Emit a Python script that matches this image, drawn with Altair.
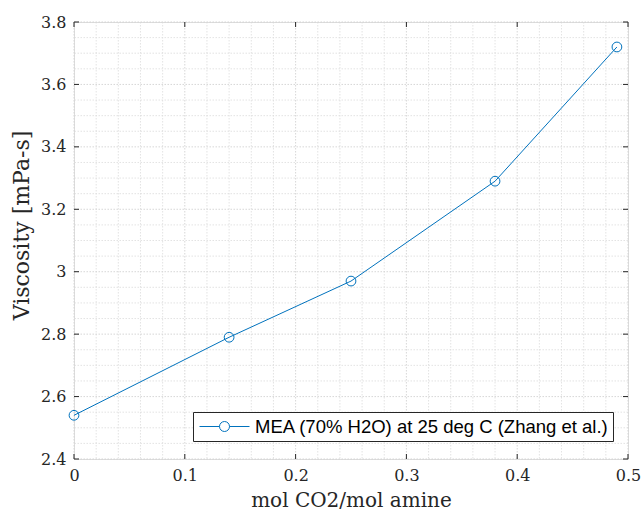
import altair as alt
import pandas as pd

# data
x_vals = [0.0, 0.14, 0.25, 0.38, 0.49]
y_vals = [2.54, 2.79, 2.97, 3.29, 3.72]
series_name = "MEA (70% H2O) at 25 deg C (Zhang et al.)"

x_ticks = [0.0, 0.1, 0.2, 0.3, 0.4, 0.5]
y_ticks = [2.4, 2.6, 2.8, 3.0, 3.2, 3.4, 3.6, 3.8]
x_minor = [0.02, 0.04, 0.06, 0.08, 0.12, 0.14, 0.16, 0.18, 0.22, 0.24, 0.26, 0.28,
           0.32, 0.34, 0.36, 0.38, 0.42, 0.44, 0.46, 0.48]
y_minor = [2.45, 2.5, 2.55, 2.65, 2.7, 2.75, 2.85, 2.9, 2.95, 3.05, 3.1, 3.15,
           3.25, 3.3, 3.35, 3.45, 3.5, 3.55, 3.65, 3.7, 3.75]

W, H = 554, 437
BLUE = "#0072BD"
AX = "#262626"
SERIF = "DejaVu Serif"

df = pd.DataFrame({"x": x_vals, "y": y_vals, "s": [series_name] * len(x_vals)})
xs = alt.Scale(domain=[0, 0.5], nice=False, zero=False)
ys = alt.Scale(domain=[2.4, 3.8], nice=False, zero=False)

xaxis = alt.Axis(values=x_ticks, title="mol CO2/mol amine", grid=False, ticks=False,
                 domain=False, labelFont=SERIF, labelFontSize=16, labelColor=AX,
                 labelPadding=8, labelFlush=False, titleFont=SERIF, titleFontSize=20,
                 titleFontWeight="normal", titleColor=AX, titlePadding=7,
                 labelExpr="datum.value == 0 ? '0' : format(datum.value, '.1f')")
yaxis = alt.Axis(values=y_ticks, title="Viscosity [mPa-s]", grid=False, ticks=False,
                 domain=False, labelFont=SERIF, labelFontSize=16, labelColor=AX,
                 labelPadding=8, labelFlush=False, titleFont=SERIF, titleFontSize=22,
                 titleFontWeight="normal", titleColor=AX, titlePadding=7, titleY=203,
                 labelExpr="datum.value == 3 ? '3' : format(datum.value, '.1f')")

dx_minor = pd.DataFrame({"x": x_minor})
dy_minor = pd.DataFrame({"y": y_minor})
dx_major = pd.DataFrame({"x": x_ticks})
dy_major = pd.DataFrame({"y": y_ticks})

X = alt.X("x:Q", scale=xs, axis=xaxis)
Y = alt.Y("y:Q", scale=ys, axis=yaxis)

grid_c = "#dcdcdc"
vmin = alt.Chart(dx_minor).mark_rule(color=grid_c, strokeDash=[1.5, 1.5], strokeWidth=0.8).encode(x=X)
hmin = alt.Chart(dy_minor).mark_rule(color=grid_c, strokeDash=[1.5, 1.5], strokeWidth=0.8).encode(y=Y)
vmaj = alt.Chart(dx_major).mark_rule(color="#d2d2d2", strokeDash=[1.5, 1.5], strokeWidth=0.9).encode(x=X)
hmaj = alt.Chart(dy_major).mark_rule(color="#d2d2d2", strokeDash=[1.5, 1.5], strokeWidth=0.9).encode(y=Y)

# inward tick marks on all four sides
tick_c = AX
tb = alt.Chart(dx_major).mark_rule(color=tick_c, strokeWidth=1).encode(
    x=X, y=alt.value(H), y2=alt.value(H - 5))
tt = alt.Chart(dx_major).mark_rule(color=tick_c, strokeWidth=1).encode(
    x=X, y=alt.value(0), y2=alt.value(5))
tl = alt.Chart(dy_major).mark_rule(color=tick_c, strokeWidth=1).encode(
    y=Y, x=alt.value(0), x2=alt.value(5))
tr = alt.Chart(dy_major).mark_rule(color=tick_c, strokeWidth=1).encode(
    y=Y, x=alt.value(W), x2=alt.value(W - 5))

r = 5.0 / 25.0
sym = (f"M-1,0H{-r}M{r},0H1M{r},0A{r},{r},0,1,1,{-r},0A{r},{r},0,1,1,{r},0")

color = alt.Color("s:N", scale=alt.Scale(range=[BLUE]),
                  legend=alt.Legend(
                      title=None, orient="none", legendX=119, legendY=390,
                      direction="vertical",
                      symbolType=sym, symbolSize=50 * 50, symbolStrokeWidth=1,
                      symbolFillColor="transparent", symbolStrokeColor=BLUE,
                      clipHeight=21, labelFont="Liberation Sans", labelFontSize=18.5,
                      labelColor="#000000", labelOffset=5, padding=4, labelLimit=1000,
                      strokeColor=AX, fillColor="white", symbolOffset=2))

line = alt.Chart(df).mark_line(color=BLUE, strokeWidth=1).encode(x=X, y=Y, color=color)
pts = alt.Chart(df).mark_point(shape="circle", filled=False, size=95, strokeWidth=1,
                               opacity=1).encode(x=X, y=Y, color=color)

chart = alt.layer(vmin, hmin, vmaj, hmaj, line, pts, tb, tt, tl, tr).properties(
    width=W, height=H,
    padding={"left": 74, "top": 22, "right": 14, "bottom": 56},
    autosize=alt.AutoSizeParams(type="none"),
).configure_view(stroke="#808080", strokeWidth=1.5).configure(background="white")

chart.save("out.html", embed_options={"renderer": "svg", "actions": False})
